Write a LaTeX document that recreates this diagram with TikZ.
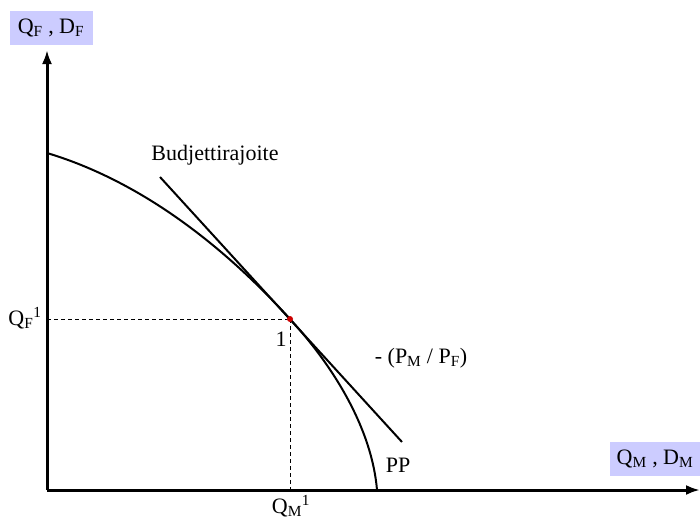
\documentclass[tikz,border=0pt]{standalone}
\usepackage{fontspec}
\setmainfont{Liberation Serif}
\usetikzlibrary{arrows.meta}
\definecolor{lav}{HTML}{CCCCFF}
\tikzset{
  axis/.style={line width=3pt,-{Latex[length=14pt,width=10pt]}},
  curve/.style={line width=2pt},
  guide/.style={line width=1pt,dash pattern=on 4pt off 3pt},
  lbl/.style={font=\fontsize{22}{24}\selectfont,inner sep=0pt},
  axlbl/.style={lbl,fill=lav,minimum height=34pt,inner xsep=3pt}
}
\begin{document}
\begin{tikzpicture}[x=1pt,y=-1pt]
\useasboundingbox (0,0) rectangle (700,520);
\coordinate (O) at (47,490);
\coordinate (Ytop) at (47,50);
\coordinate (Xend) at (700,490);
\coordinate (E) at (290,319);
\coordinate (Ex) at (290,490);
\coordinate (Ey) at (47,319);
\coordinate (B1) at (160,177);
\coordinate (B2) at (402,442);
\coordinate (P0) at (47,153);
\coordinate (P1) at (377,490);
% axes
\draw[axis] (O) -- (Ytop);
\draw[axis] (O) -- (Xend);
% PP curve
\draw[curve] (P0) .. controls (127,177) and (210,231) .. (E)
  .. controls (335,368) and (372,430) .. (P1);
% budget line
\draw[curve] (B1) -- (B2);
% guides
\draw[guide] (Ey) -- (E);
\draw[guide] (E) -- (Ex);
\fill[red!80!black] (E) circle (3pt);
% labels
\node[axlbl,minimum width=83pt] (ly) at (51,28) {Q\textsubscript{F} , D\textsubscript{F}};
\node[axlbl,minimum width=90pt] (lx) at (655,459) {Q\textsubscript{M} , D\textsubscript{M}};
\node[lbl] (bud) at (215,155) {Budjettirajoite};
\node[lbl] (one) at (281,339) {1};
\node[lbl] (qf) at (25,318) {Q\textsubscript{F}\textsuperscript{1}};
\node[lbl] (qm) at (291,506) {Q\textsubscript{M}\textsuperscript{1}};
\node[lbl] (pr) at (421,358) {- (P\textsubscript{M} / P\textsubscript{F})};
\node[lbl] (pp) at (398,465) {PP};
\end{tikzpicture}
\end{document}
